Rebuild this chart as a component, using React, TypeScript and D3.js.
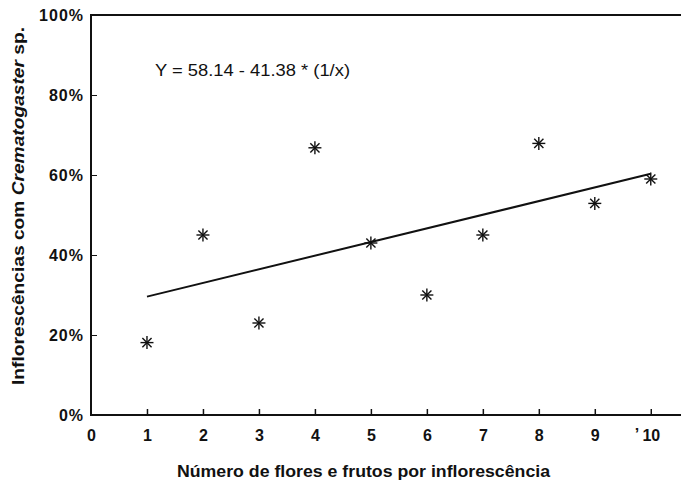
import React, { useEffect, useRef } from 'react';
import * as d3 from 'd3';

// values
const flowers = [1, 2, 3, 4, 5, 6, 7, 8, 9, 10];
const pctCrematogaster = [18.1, 45, 23, 66.8, 43, 30, 45, 67.9, 52.9, 59];
const fitX = [1, 10];
const fitY = [29.6, 60.3];
const xTicks = [0, 1, 2, 3, 4, 5, 6, 7, 8, 9, 10];
const yTicks = [0, 20, 40, 60, 80, 100];
const equation = 'Y = 58.14 - 41.38 * (1/x)';

function App() {
    const svgRef = useRef<SVGSVGElement>(null);

    useEffect(() => {
        const width = 681;
        const height = 480;
        const margin = { top: 15, right: 0, bottom: 65, left: 91 };
        const font = '"Liberation Sans", Arial, Helvetica, sans-serif';

        const svg = d3.select(svgRef.current)
            .attr('width', width)
            .attr('height', height)
            .style('font-family', font);
        svg.selectAll('*').remove();

        const x = d3.scaleLinear()
            .domain([0, 10.54])
            .range([margin.left, width - margin.right]);

        const y = d3.scaleLinear()
            .domain([0, 100])
            .range([height - margin.bottom, margin.top]);

        // frame: top, left, bottom (no right border in the scan)
        svg.append('path')
            .attr('d', `M${width},${y(100)}H${x(0)}V${y(0)}H${width}`)
            .attr('fill', 'none')
            .attr('stroke', '#111')
            .attr('stroke-width', 2);

        // x axis
        const xAxis = d3.axisBottom(x)
            .tickValues(xTicks)
            .tickSizeInner(-6)
            .tickSizeOuter(0)
            .tickPadding(15)
            .tickFormat(d3.format('d'));

        const gx = svg.append('g')
            .attr('transform', `translate(0,${y(0)})`)
            .call(xAxis);
        gx.select('.domain').remove();
        gx.selectAll('line').attr('stroke', '#111').attr('stroke-width', 1.5);
        gx.selectAll('line').filter((d: any) => d === 0).remove();
        gx.selectAll('text')
            .attr('fill', '#111')
            .style('font-family', font)
            .style('font-size', '16px')
            .style('font-weight', 'bold');

        // stray mark beside the 10 in the scan
        svg.append('text')
            .attr('x', x(10) - 16)
            .attr('y', y(0) + 25)
            .attr('fill', '#111')
            .style('font-size', '16px')
            .style('font-weight', 'bold')
            .text('’');

        // y axis
        const yAxis = d3.axisLeft(y)
            .tickValues(yTicks)
            .tickSizeInner(-6)
            .tickSizeOuter(0)
            .tickPadding(7)
            .tickFormat(d => `${d}%`);

        const gy = svg.append('g')
            .attr('transform', `translate(${x(0)},0)`)
            .call(yAxis);
        gy.select('.domain').remove();
        gy.selectAll('line').attr('stroke', '#111').attr('stroke-width', 1);
        gy.selectAll('line').filter((d: any) => d === 0 || d === 100).remove();
        gy.selectAll('text')
            .attr('fill', '#111')
            .style('font-family', font)
            .style('font-size', '16px')
            .style('letter-spacing', '1px')
            .style('font-weight', 'bold');

        // fitted line
        const line = d3.line<number>()
            .x((d, i) => x(fitX[i]))
            .y(d => y(d));

        svg.append('path')
            .datum(fitY)
            .attr('d', line)
            .attr('fill', 'none')
            .attr('stroke', '#111')
            .attr('stroke-width', 2);

        // asterisk markers
        const r = 6.5;
        const star = svg.selectAll('.star')
            .data(pctCrematogaster)
            .enter().append('g')
            .attr('class', 'star')
            .attr('transform', (d, i) => `translate(${x(flowers[i])},${y(d)})`);

        [0, 45, 90, 135].forEach(angle => {
            const a = angle * Math.PI / 180;
            star.append('line')
                .attr('x1', -r * Math.cos(a))
                .attr('y1', -r * Math.sin(a))
                .attr('x2', r * Math.cos(a))
                .attr('y2', r * Math.sin(a))
                .attr('stroke', '#111')
                .attr('stroke-width', 1.4);
        });

        // equation
        svg.append('text')
            .attr('x', 155)
            .attr('y', 76)
            .attr('fill', '#111')
            .attr('textLength', 195)
            .attr('lengthAdjust', 'spacingAndGlyphs')
            .style('font-size', '17px')
            .text(equation);

        // axis titles
        svg.append('text')
            .attr('x', 177)
            .attr('y', 477)
            .attr('fill', '#111')
            .attr('textLength', 373)
            .attr('lengthAdjust', 'spacingAndGlyphs')
            .style('font-size', '17px')
            .style('font-weight', 'bold')
            .text('Número de flores e frutos por inflorescência');

        const yTitle = svg.append('text')
            .attr('transform', `translate(24,385) rotate(-90)`)
            .attr('fill', '#111')
            .attr('textLength', 358)
            .attr('lengthAdjust', 'spacingAndGlyphs')
            .style('font-size', '16px')
            .style('font-weight', 'bold');
        yTitle.append('tspan').text('Inflorescências com ');
        yTitle.append('tspan').style('font-style', 'italic').text('Crematogaster');
        yTitle.append('tspan').text(' sp.');
    }, []);

    return (
        <div style={{ position: 'absolute', left: 0, top: 0, background: '#fff' }}>
            <svg ref={svgRef}></svg>
        </div>
    );
}

export default App;
